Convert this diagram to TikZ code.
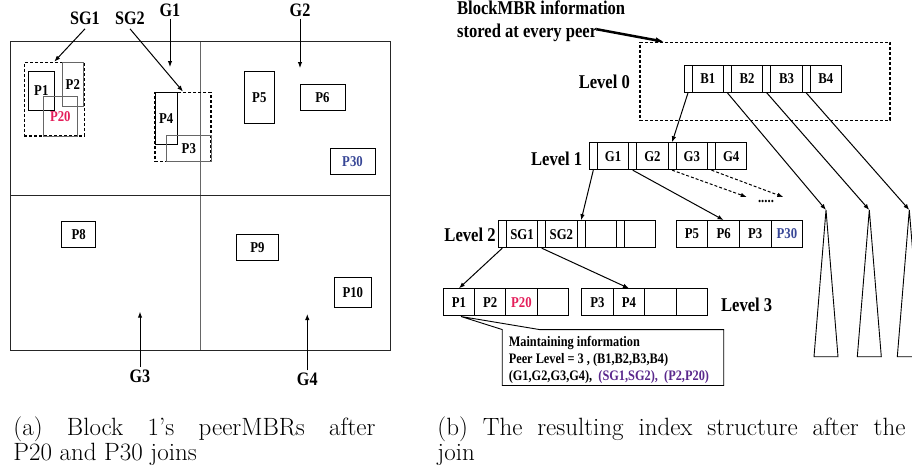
\documentclass[tikz,border=0pt]{standalone}
\usepackage{fontspec}
\newfontfamily\labfont[FakeStretch=0.85]{Liberation Serif}
\usetikzlibrary{arrows.meta}
\definecolor{p20red}{RGB}{228,30,90}
\definecolor{p30blue}{RGB}{55,70,150}
\definecolor{keypurple}{RGB}{90,40,140}
\newcommand{\bigfont}{\labfont\bfseries\fontsize{19}{21}\selectfont}
\newcommand{\lvlfont}{\labfont\bfseries\fontsize{19.5}{23}\selectfont}
\newcommand{\cellfont}{\labfont\bfseries\fontsize{15}{17}\selectfont}
\newcommand{\notefont}{\labfont\bfseries\fontsize{14.5}{16.7}\selectfont}
\tikzset{
  mbr/.style={draw, inner sep=0pt, font=\cellfont},
  grp/.style={draw, densely dashed, line width=1.4pt, inner sep=0pt},
  ptr/.style={draw, inner sep=0pt, minimum width=8pt, minimum height=27pt},
  cell/.style={draw, inner sep=0pt, minimum width=31.4pt, minimum height=27pt, font=\cellfont},
  lbl/.style={font=\bigfont, inner sep=0pt},
  lvl/.style={font=\lvlfont, inner sep=0pt},
  link/.style={-{Latex[length=6pt,width=4.5pt]}, line width=1pt},
  capt/.style={font=\fontsize{25}{25}\selectfont, align=left, inner sep=0pt}
}
\begin{document}
\begin{tikzpicture}[x=1pt,y=-1pt,line width=0.9pt]
\useasboundingbox (0,0) rectangle (912,471);

% (a) block 1 and its peerMBRs
\draw[black!85] (10,41.5) rectangle (390,350);
\draw[black!60] (200,41.5) -- (200,350);
\draw[black!85] (10,195.5) -- (390,195.5);

\node[grp, minimum width=60pt, minimum height=73.7pt] (sg1box) at (54.3,99.2) {};
\node[mbr, minimum width=25.3pt, minimum height=38.3pt] (p1) at (41.3,90.8) {P1};
\node[mbr, draw=black!60, minimum width=21pt, minimum height=43.7pt] (p2) at (72.8,84.2) {P2};
\node[mbr, draw=black!60, minimum width=34pt, minimum height=39.3pt, text=p20red] (p20) at (60.3,116.3) {P20};

\node[grp, minimum width=56pt, minimum height=69.4pt] (sg2box) at (183,127) {};
\node[mbr, minimum width=22.3pt, minimum height=52pt] (p4) at (166.2,118.3) {P4};
\node[mbr, draw=black!60, minimum width=44.3pt, minimum height=26pt] (p3) at (188.8,148.7) {P3};

\node[mbr, minimum width=30pt, minimum height=52.3pt] (p5) at (259.3,97.2) {P5};
\node[mbr, minimum width=45pt, minimum height=25.7pt] (p6) at (322.5,97.2) {P6};
\node[mbr, minimum width=45pt, minimum height=26pt, text=p30blue] (p30) at (352.5,161.3) {P30};
\node[mbr, minimum width=34pt, minimum height=25.6pt] (p8) at (78.7,234.5) {P8};
\node[mbr, minimum width=41.6pt, minimum height=26pt] (p9) at (257.5,247.3) {P9};
\node[mbr, minimum width=37.7pt, minimum height=30.4pt] (p10) at (352.8,292.5) {P10};

\node[lbl] (sg1lab) at (85,18) {SG1};
\node[lbl] (sg2lab) at (130,18) {SG2};
\node[lbl] (g1lab) at (170,10) {G1};
\node[lbl] (g2lab) at (300,10) {G2};
\node[lbl] (g3lab) at (140,376) {G3};
\node[lbl] (g4lab) at (307.3,379.3) {G4};
\coordinate (g1tip) at (170,67);
\coordinate (g2tip) at (300,68);
\coordinate (g3tip) at (140,311.7);
\coordinate (g4tip) at (307.3,314);
\draw[link] ([yshift=-4pt]sg1lab.south) -- (sg1box.north);
\draw[link] ([yshift=-4pt]sg2lab.south) -- (sg2box.north);
\draw[link] ([yshift=-2pt]g1lab.south) -- (g1tip);
\draw[link] ([yshift=-2pt]g2lab.south) -- (g2tip);
\draw[link] ([yshift=2pt]g3lab.north) -- (g3tip);
\draw[link] ([yshift=2pt]g4lab.north) -- (g4tip);

% (b) index structure
\node[lvl, align=left, anchor=west] (blkinfo) at (456.7,21.7) {BlockMBR information\\stored at every peer};
\node[draw, densely dashed, line width=1.1pt, minimum width=250pt, minimum height=77.7pt, inner sep=0pt] (lvlzero) at (765,81.2) {};
\coordinate (infoend) at (597,29.3);
\draw[-{Latex[length=9pt,width=6pt]}, line width=2.5pt] (infoend) -- ([xshift=25pt]lvlzero.north west);

\node[lvl] (lv0) at (604.3,81.7) {Level 0};
\node[lvl] (lv1) at (556.7,159.3) {Level 1};
\node[lvl] (lv2) at (470,235) {Level 2};
\node[lvl] (lv3) at (746.7,305) {Level 3};

\foreach \lab [count=\i] in {B1,B2,B3,B4}{
  \node[ptr] (bp\i) at ({684+(\i-1)*39.4+4}, 78.9) {};
  \node[cell] (b\i) at ({692+(\i-1)*39.4+15.7}, 78.9) {\lab};
}
\foreach \lab [count=\i] in {G1,G2,G3,G4}{
  \node[ptr] (gp\i) at ({589.3+(\i-1)*39.4+4}, 156.2) {};
  \node[cell] (g\i) at ({597.3+(\i-1)*39.4+15.7}, 156.2) {\lab};
}
\foreach \lab [count=\i] in {SG1,SG2,{},{}}{
  \node[ptr] (sp\i) at ({498.3+(\i-1)*39.4+4}, 234.2) {};
  \node[cell] (s\i) at ({506.3+(\i-1)*39.4+15.7}, 234.2) {\lab};
}
\foreach \lab [count=\i] in {P5,P6,P3,\textcolor{p30blue}{P30}}
  \node[cell, minimum width=31.65pt] (r\i) at ({676.1+(\i-0.5)*31.65}, 234) {\lab};
\foreach \lab [count=\i] in {P1,P2,\textcolor{p20red}{P20},{}}
  \node[cell, minimum width=31.25pt] (la\i) at ({443.3+(\i-0.5)*31.25}, 302.3) {\lab};
\foreach \lab [count=\i] in {P3,P4,{},{}}
  \node[cell, minimum width=31.5pt] (lb\i) at ({581.7+(\i-0.5)*31.5}, 302.3) {\lab};

\coordinate (t1) at (826,210);
\coordinate (t2) at (869.3,210);
\coordinate (t3) at (909.3,210);
\foreach \t in {t1,t2,t3}
  \draw (\t) -- ++(-12,146.7) -- ++(24,0) -- cycle;

\draw[link] (bp1.south) -- (gp3.north);
\draw[link] (bp2.south) -- (t1);
\draw[link] (bp3.south) -- (t2);
\draw[link] (bp4.south) -- (t3);
\draw[link] (gp1.south) -- (sp3.north);
\draw[link] (gp2.south) -- (r2.north);
\coordinate (more1) at (746.7,197);
\coordinate (more2) at (783.3,197);
\draw[link, densely dashed] (gp3.south) -- (more1);
\draw[link, densely dashed] (gp4.south) -- (more2);
\node[font=\cellfont, inner sep=0pt] (dots) at (766,201) {.....};
\draw[link] (sp1.south) -- (la1.north);
\draw[link] (sp2.south) -- (lb2.north);

% callout with the peer's information
\node[inner sep=0pt, minimum width=220.6pt, minimum height=55pt] (note) at (613,357.5) {};
\coordinate (calltip) at (461,316.5);
\draw ([xshift=37.3pt]note.north west) -- (note.north east) -- (note.south east)
  -- (note.south west) -- (note.north west) -- (calltip) -- cycle;
\node[font=\notefont, align=left, anchor=west, inner sep=0pt] (notetext) at (508.3,360)
  {Maintaining information\\Peer Level = 3 , (B1,B2,B3,B4)\\(G1,G2,G3,G4),~ \textcolor{keypurple}{(SG1,SG2),~ (P2,P20)}};

% captions
\node[capt, anchor=north west] (capa) at (13,416) {\makebox[362pt][s]{(a) Block 1's peerMBRs after}\\P20 and P30 joins};
\node[capt, anchor=north west] (capb) at (437,416) {\makebox[468pt][s]{(b) The resulting index structure after the}\\join};
\end{tikzpicture}
\end{document}
